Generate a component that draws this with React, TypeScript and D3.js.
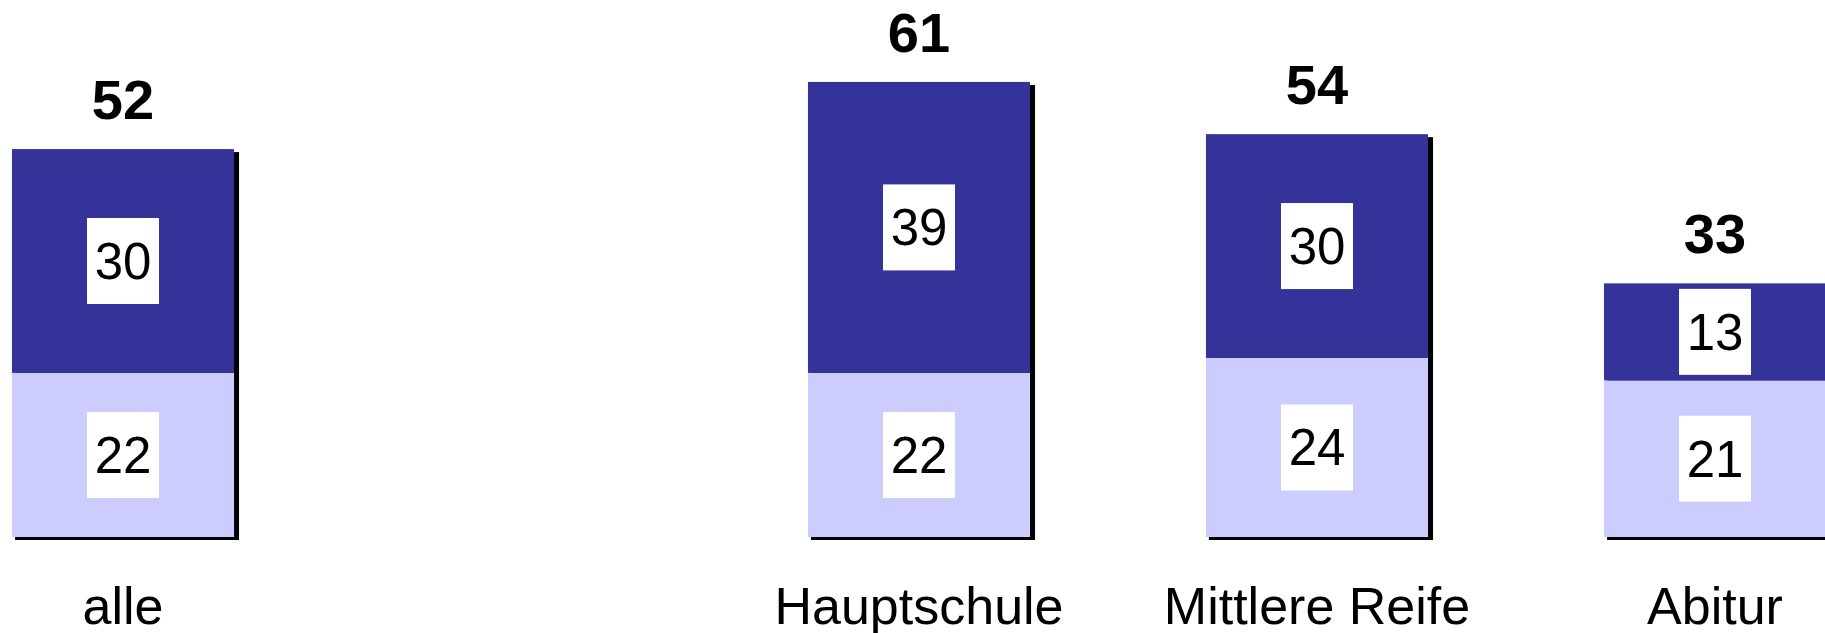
import React from "react";
import * as d3 from "d3";

const categories = ["alle", "", "Hauptschule", "Mittlere Reife", "Abitur"];
const lowerValues = [22, null, 22, 24, 21];
const upperValues = [30, null, 39, 30, 13];
const totals = [52, null, 61, 54, 33];

const W = 1825;
const H = 633;

export default function App() {
  const x = d3
    .scaleBand<string>()
    .domain(categories.map((c, i) => `${i}`))
    .range([-76, 1914])
    .paddingInner(0.442)
    .paddingOuter(0.221);
  const y = d3.scaleLinear().domain([0, 72]).range([537, 537 - 72 * 7.46]);
  const bw = x.bandwidth();

  return (
    <svg
      width={W}
      height={H}
      style={{ position: "absolute", left: 0, top: 0, background: "#fff" }}
      fontFamily="'Liberation Sans', Arial, sans-serif"
    >
      {categories.map((cat, i) => {
        const lo = lowerValues[i];
        const up = upperValues[i];
        const x0 = x(`${i}`)!;
        const cx = x0 + bw / 2;
        const elems: React.ReactNode[] = [];
        if (lo != null && up != null) {
          const yBase = y(0);
          const yMid = y(lo);
          const yTop = y(lo + up);
          elems.push(
            <rect key="sh" x={x0 + 3} y={yTop + 3} width={bw + 2} height={yBase - yTop} fill="#000" />,
            <rect key="lo" x={x0} y={yMid} width={bw} height={yBase - yMid} fill="#CCCCFF" />,
            <rect key="up" x={x0} y={yTop} width={bw} height={yMid - yTop} fill="#333399" />
          );
          const segs = [
            { v: lo, c: (yBase + yMid) / 2 },
            { v: up, c: (yMid + yTop) / 2 },
          ];
          segs.forEach((s, k) => {
            elems.push(
              <g key={"lab" + k}>
                <rect x={cx - 36} y={s.c - 43} width={72} height={86} fill="#fff" />
                <text x={cx} y={s.c + 18} textAnchor="middle" fontSize={51} fill="#000">
                  {s.v}
                </text>
              </g>
            );
          });
          elems.push(
            <text key="tot" x={cx} y={yTop - 30} textAnchor="middle" fontSize={56} fontWeight="bold" fill="#000">
              {totals[i]}
            </text>
          );
        }
        if (cat) {
          elems.push(
            <text key="cat" x={cx} y={624} textAnchor="middle" fontSize={52} fill="#000">
              {cat}
            </text>
          );
        }
        return <g key={i}>{elems}</g>;
      })}
    </svg>
  );
}
